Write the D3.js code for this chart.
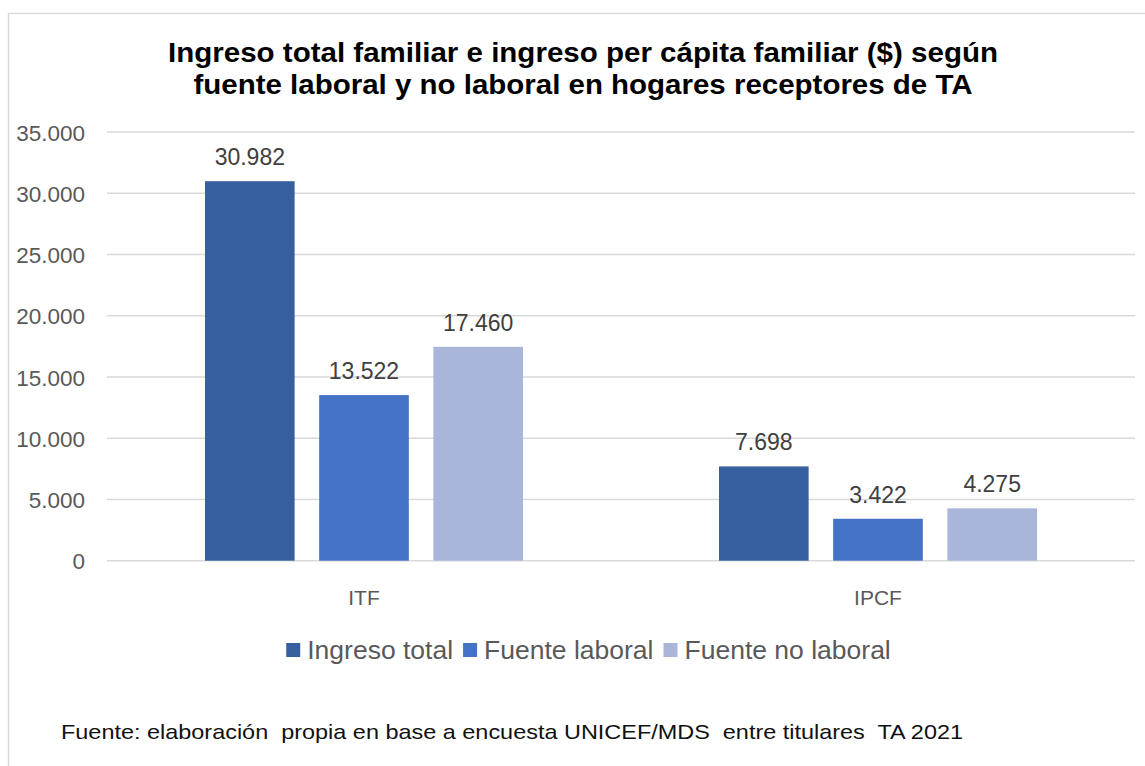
<!DOCTYPE html>
<html>
<head>
<meta charset="utf-8">
<script src="https://cdn.jsdelivr.net/npm/d3@7"></script>
<style>
  html, body { margin: 0; padding: 0; background: #fff; }
  svg { display: block; font-family: "Liberation Sans", Arial, sans-serif; }
</style>
</head>
<body>
<svg id="chart" width="1145" height="766"></svg>
<script>
// ---- Data ----
const categories = ["ITF", "IPCF"];
const seriesNames = ["Ingreso total", "Fuente laboral", "Fuente no laboral"];
const ingresoTotal = [30982, 7698];
const fuenteLaboral = [13522, 3422];
const fuenteNoLaboral = [17460, 4275];
const yTicks = [0, 5000, 10000, 15000, 20000, 25000, 30000, 35000];
const titleLines = [
  "Ingreso total familiar e ingreso per cápita familiar ($) según",
  "fuente laboral y no laboral en hogares receptores de TA"
];
const footer = "Fuente: elaboración  propia en base a encuesta UNICEF/MDS  entre titulares  TA 2021";

const seriesValues = [ingresoTotal, fuenteLaboral, fuenteNoLaboral];
const colors = ["#365F9F", "#4472C4", "#A9B6DA"];

const svg = d3.select("#chart");
const fmt = v => d3.format(",")(v).replace(/,/g, ".");

// frame
svg.append("rect").attr("x", 8.5).attr("y", 13.5).attr("width", 1150).attr("height", 770)
  .attr("fill", "#fff").attr("stroke", "#d9d9d9").attr("stroke-width", 1.5);

// title
const titleW = [830, 779];
svg.append("g").selectAll("text").data(titleLines).join("text")
  .attr("x", 583).attr("y", (d, i) => 62 + i * 32)
  .attr("text-anchor", "middle")
  .attr("font-size", 27).attr("font-weight", "bold").attr("fill", "#000")
  .attr("textLength", (d, i) => titleW[i]).attr("lengthAdjust", "spacingAndGlyphs")
  .text(d => d);

// scales
const y = d3.scaleLinear().domain([0, 35000]).range([560.7, 132]);
const x0 = d3.scaleBand().domain(categories).range([107, 1135]).padding(0);
const x1 = d3.scaleBand().domain(seriesNames).range([98, 416]).paddingInner(0.215).paddingOuter(0);

// gridlines
svg.append("g").selectAll("line").data(yTicks).join("line")
  .attr("x1", 107).attr("x2", 1135)
  .attr("y1", d => y(d)).attr("y2", d => y(d))
  .attr("stroke", "#d9d9d9").attr("stroke-width", 1.5);

// y axis labels
const yAxis = d3.axisLeft(y).tickValues(yTicks).tickFormat(fmt).tickSize(0).tickPadding(0);
const ga = svg.append("g").attr("transform", "translate(85,0)").call(yAxis);
ga.select(".domain").remove();
ga.selectAll("text").attr("font-size", 22.5).attr("fill", "#595959")
  .attr("font-family", "Liberation Sans, Arial, sans-serif").attr("dy", "0.36em");

// bars
const groups = svg.append("g").selectAll("g").data(categories).join("g")
  .attr("transform", d => `translate(${x0(d)},0)`);

groups.selectAll("rect")
  .data((c, ci) => seriesNames.map((s, si) => ({ s, si, v: seriesValues[si][ci] })))
  .join("rect")
  .attr("x", d => x1(d.s)).attr("width", x1.bandwidth())
  .attr("y", d => y(d.v)).attr("height", d => y(0) - y(d.v))
  .attr("fill", d => colors[d.si]);

groups.selectAll("text.lbl")
  .data((c, ci) => seriesNames.map((s, si) => ({ s, si, v: seriesValues[si][ci] })))
  .join("text").attr("class", "lbl")
  .attr("x", d => x1(d.s) + x1.bandwidth() / 2).attr("y", d => y(d.v) - 16)
  .attr("text-anchor", "middle").attr("font-size", 23).attr("fill", "#404040")
  .text(d => fmt(d.v));

// category labels
svg.append("g").selectAll("text").data(categories).join("text")
  .attr("x", d => x0(d) + x0.bandwidth() / 2).attr("y", 605)
  .attr("text-anchor", "middle").attr("font-size", 21).attr("fill", "#595959")
  .text(d => d);

// legend
const leg = svg.append("g");
const items = leg.selectAll("g").data(seriesNames).join("g");
items.append("rect").attr("width", 14).attr("height", 14).attr("y", 643)
  .attr("fill", (d, i) => colors[i]);
items.append("text").attr("x", 21).attr("y", 659)
  .attr("font-size", 26.5).attr("fill", "#595959").text(d => d);
let cx = 0;
const widths = [];
items.each(function () { widths.push(d3.select(this).select("text").node().getComputedTextLength()); });
const totalW = widths.reduce((a, w) => a + 21 + w, 0) + 10 * (widths.length - 1);
cx = 588.5 - totalW / 2;
items.attr("transform", (d, i) => {
  const t = `translate(${cx},0)`;
  cx += 21 + widths[i] + 10;
  return t;
});

// footer
svg.append("text").attr("x", 61).attr("y", 739)
  .attr("font-size", 21).attr("fill", "#111")
  .style("white-space", "pre")
  .attr("textLength", 902).attr("lengthAdjust", "spacingAndGlyphs")
  .text(footer);
</script>
</body>
</html>
